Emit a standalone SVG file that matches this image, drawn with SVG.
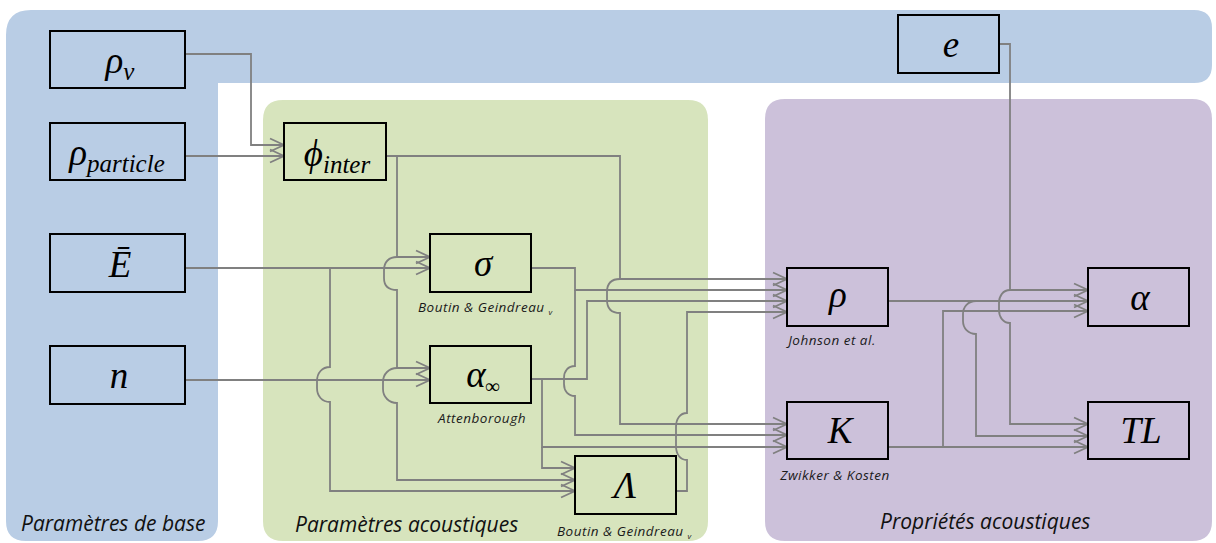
<svg xmlns="http://www.w3.org/2000/svg" width="1216" height="543" viewBox="0 0 1216 543">
<style>
.box{stroke:#000;stroke-width:2;}
.bb{fill:#B9CDE5;} .gb{fill:#D7E4BD;} .pb{fill:#CCC1DA;}
.math{font-family:"Liberation Serif",serif;font-style:italic;font-size:37px;fill:#000;}
.lbl{font-family:"Open Sans","Liberation Sans",sans-serif;font-style:italic;font-size:13.5px;letter-spacing:0.5px;fill:#1a1a1a;}
.reg{font-family:"Open Sans","Liberation Sans",sans-serif;font-style:italic;font-size:21px;fill:#111;}
.con path{fill:none;stroke:#808080;stroke-width:1.8;marker-end:url(#arr);}
</style>
<defs>
<marker id="arr" markerUnits="userSpaceOnUse" markerWidth="20" markerHeight="18" viewBox="-17 -9 19 18" refX="0" refY="0" orient="auto">
<path d="M-14,-6.5 L0,0 L-14,6.5" fill="none" stroke="#808080" stroke-width="1.8"/>
</marker>
</defs>
<rect width="1216" height="543" fill="#fff"/>
<g id="regions">
<path class="bb" d="M31,10 H1194 Q1212,10 1212,28 V65 Q1212,83 1194,83 H218 V521 Q218,541 198,541 H26 Q6,541 6,521 V35 Q6,10 31,10 Z"/>
<path class="gb" d="M283,100 H688 Q708,100 708,120 V521 Q708,541 688,541 H283 Q263,541 263,521 V120 Q263,100 283,100 Z"/>
<path class="pb" d="M785,99 H1192 Q1212,99 1212,119 V521 Q1212,541 1192,541 H785 Q765,541 765,521 V119 Q765,99 785,99 Z"/>
<text class="reg" x="21" y="531">Paramètres de base</text>
<text class="reg" x="295" y="532">Paramètres acoustiques</text>
<text class="reg" x="880" y="529">Propriétés acoustiques</text>
</g>
<g class="con" id="connectors">
<path d="M185,54 H251 V145 H284"/>
<path d="M185,156 H284"/>
<path d="M386,156 H397 V257 H430"/>
<path d="M397,257 C389,257 384,262 384,270 V278 C384,286 389,290 397,290 V368 H430"/>
<path d="M397,368 C389,368 383,374 383,382 V389 C383,397 389,403 397,403 V480 H575"/>
<path d="M386,156 H620 V279 H787"/>
<path d="M620,279 C611,279 607,284 607,292 V300 C607,308 611,313 620,313 V424 H787"/>
<path d="M185,268 H430"/>
<path d="M330,268 V367 C322,367 317,373 317,381 V388 C317,396 322,402 330,402 V491 H575"/>
<path d="M185,380 H430"/>
<path d="M531,268 H575 V290 H787"/>
<path d="M575,290 V366 C568,366 564,371 564,378 V384 C564,391 568,396 575,396 V435 H787"/>
<path d="M531,379 H587 V301 H787"/>
<path d="M542,379 V447 H787"/>
<path d="M542,447 V468 H575"/>
<path d="M676,491 H687 V460 C680,460 676,454 676,446 V427 C676,419 680,413 687,413 V312 H787"/>
<path d="M888,301 H1088"/>
<path d="M976,301 C968,301 963,307 963,314 V321 C963,328 968,334 976,334 V436 H1088"/>
<path d="M888,447 H1088"/>
<path d="M943,447 V311 H1088"/>
<path d="M999,44 H1010 V290 H1088"/>
<path d="M1010,290 C1003,290 999,296 999,303 V310 C999,317 1003,323 1010,323 V424 H1088"/>
</g>
<g id="n_rhov"><rect class="box bb" x="50" y="31" width="135" height="57"/><text class="math" x="120" y="73" font-size="40" text-anchor="middle">ρ<tspan font-size="25" dy="7">v</tspan></text></g>
<g id="n_rhop"><rect class="box bb" x="50" y="123" width="135" height="57"/><text class="math" x="117" y="165" font-size="40" text-anchor="middle">ρ<tspan font-size="25" dy="7">particle</tspan></text></g>
<g id="n_E"><rect class="box bb" x="50" y="234" width="135" height="58"/><text class="math" x="120" y="277" text-anchor="middle">Ē</text></g>
<g id="n_n"><rect class="box bb" x="50" y="346" width="135" height="58"/><text class="math" x="119" y="388" font-size="39" text-anchor="middle">n</text></g>
<g id="n_e"><rect class="box bb" x="898" y="15" width="101" height="58"/><text class="math" x="951" y="57" font-size="39" text-anchor="middle">e</text></g>
<g id="n_phi"><rect class="box gb" x="284" y="123" width="102" height="57"/><text class="math" x="337" y="166" font-size="40" text-anchor="middle">ϕ<tspan font-size="25" dy="7">inter</tspan></text></g>
<g id="n_sigma"><rect class="box gb" x="430" y="234" width="101" height="58"/><text class="math" x="483" y="276" font-size="40" text-anchor="middle">σ</text><text class="lbl" x="418" y="312">Boutin &amp; Geindreau<tspan font-size="8" dx="4" dy="3">v</tspan></text></g>
<g id="n_alinf"><rect class="box gb" x="430" y="346" width="101" height="57"/><text class="math" x="483" y="387" font-size="40" text-anchor="middle">α<tspan font-size="20" dy="6">∞</tspan></text><text class="lbl" x="482" y="423" text-anchor="middle">Attenborough</text></g>
<g id="n_Lambda"><rect class="box gb" x="575" y="456" width="101" height="58"/><text class="math" x="625" y="498" text-anchor="middle">Λ</text><text class="lbl" x="557" y="536">Boutin &amp; Geindreau<tspan font-size="8" dx="4" dy="3">v</tspan></text></g>
<g id="n_rho"><rect class="box pb" x="787" y="268" width="101" height="58"/><text class="math" x="838" y="307" font-size="40" text-anchor="middle">ρ</text><text class="lbl" x="832" y="345" text-anchor="middle">Johnson et al.</text></g>
<g id="n_K"><rect class="box pb" x="787" y="402" width="101" height="57"/><text class="math" x="840" y="443" text-anchor="middle">K</text><text class="lbl" x="835" y="480" text-anchor="middle">Zwikker &amp; Kosten</text></g>
<g id="n_alpha"><rect class="box pb" x="1088" y="268" width="101" height="58"/><text class="math" x="1140" y="310" font-size="40" text-anchor="middle">α</text></g>
<g id="n_TL"><rect class="box pb" x="1088" y="402" width="101" height="57"/><text class="math" x="1141" y="443" font-size="35" text-anchor="middle">TL</text></g>
</svg>
